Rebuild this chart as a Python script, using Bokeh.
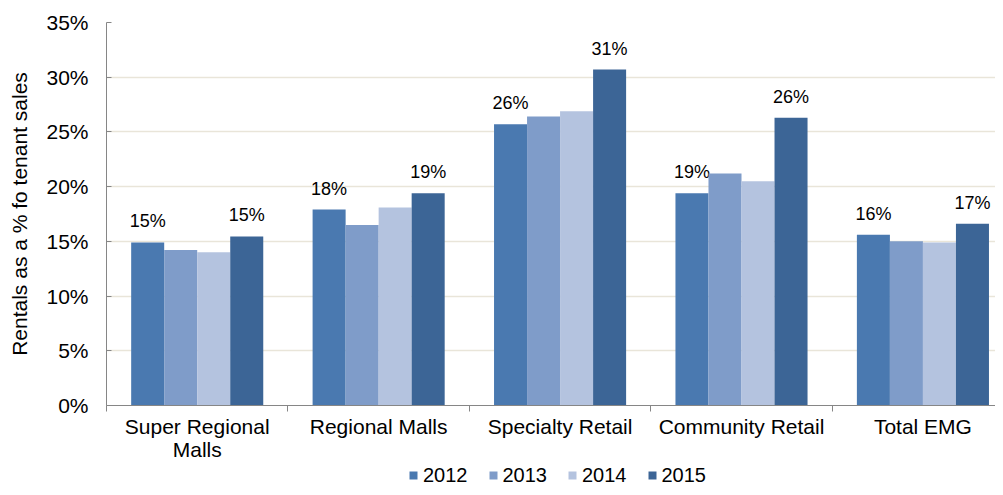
from bokeh.plotting import figure
from bokeh.layouts import column
from bokeh.models import Range1d, FixedTicker, Legend, LegendItem, ColumnDataSource
from bokeh.transform import dodge
from bokeh.core.properties import value
from bokeh.embed import file_html
from bokeh.resources import INLINE

categories = ["Super Regional\nMalls", "Regional Malls", "Specialty Retail", "Community Retail", "Total EMG"]
years = ["2012", "2013", "2014", "2015"]
v2012 = [14.9, 17.9, 25.7, 19.4, 15.6]
v2013 = [14.2, 16.5, 26.4, 21.2, 15.0]
v2014 = [14.0, 18.1, 26.9, 20.5, 14.9]
v2015 = [15.45, 19.4, 30.7, 26.3, 16.6]
series = [v2012, v2013, v2014, v2015]
labelled_years = ["2012", "2015"]
colors = ["#4A79B0", "#7F9CC9", "#B4C3DF", "#3C6596"]
yticks = [0, 5, 10, 15, 20, 25, 30, 35]

FONT = "Liberation Sans"
bar_w = 0.182
W = 995
# the reference's plot area is cropped at its right edge: only ~4.9 of 5 category slots show
x_visible_end = 4.9

xs = [i + 0.5 for i in range(len(categories))]
data = {"x": xs}
for y, vals in zip(years, series):
    data["v" + y] = vals
    data["l" + y] = [f"{int(v + 0.5)}%" for v in vals]
src = ColumnDataSource(data)

p = figure(width=W, height=463, output_backend="svg", toolbar_location=None,
           x_range=Range1d(0, x_visible_end), y_range=Range1d(0, 35))
p.min_border_left = 106
p.min_border_right = 0
p.min_border_top = 22
p.min_border_bottom = 57
p.outline_line_color = None
p.background_fill_color = "white"
p.border_fill_color = "white"

renderers = []
for k, (y, c) in enumerate(zip(years, colors)):
    off = (k - 1.5) * bar_w
    r = p.vbar(x=dodge("x", off), top="v" + y, width=bar_w, source=src,
               fill_color=c, line_color=None)
    renderers.append(r)
    if y in labelled_years:
        p.text(x=dodge("x", off), y="v" + y, text="l" + y, source=src,
               text_align="center", text_baseline="alphabetic", y_offset=-21,
               text_font=value(FONT), text_font_size="18px", text_color="#000000")

# y axis
p.yaxis.ticker = FixedTicker(ticks=yticks)
p.yaxis.major_label_overrides = {t: f"{t}%" for t in yticks}
p.yaxis.axis_label = "Rentals as a % fo tenant sales"
p.yaxis.axis_label_text_font = FONT
p.yaxis.axis_label_text_font_size = "21px"
p.yaxis.axis_label_text_font_style = "normal"
p.yaxis.axis_label_text_color = "#000000"
p.yaxis.axis_label_standoff = 12
p.yaxis.major_label_text_font = FONT
p.yaxis.major_label_text_font_size = "21px"
p.yaxis.major_label_text_color = "#000000"
p.yaxis.major_label_standoff = 18
p.yaxis.axis_line_color = "#868686"
p.yaxis.major_tick_line_color = "#868686"
p.yaxis.major_tick_in = 5
p.yaxis.major_tick_out = 0
p.yaxis.minor_tick_line_color = None

# x axis
p.xaxis.ticker = FixedTicker(ticks=xs, minor_ticks=list(range(len(categories) + 1)))
p.xaxis.major_label_overrides = {x: c for x, c in zip(xs, categories)}
p.xaxis.major_label_text_font = FONT
p.xaxis.major_label_text_font_size = "21px"
p.xaxis.major_label_text_line_height = 1.0
p.xaxis.major_label_text_color = "#000000"
p.xaxis.major_label_standoff = 3
p.xaxis.axis_line_color = "#868686"
p.xaxis.major_tick_line_color = None
p.xaxis.minor_tick_line_color = "#868686"
p.xaxis.minor_tick_out = 6
p.xaxis.minor_tick_in = 0

p.xgrid.grid_line_color = None
p.ygrid.grid_line_color = "#E9E5D9"
p.ygrid.grid_line_width = 1.5

# legend strip (separate figure so the legend is not clipped by the main frame);
# its bars use the same data but lie entirely outside this strip's visible ranges
lg = figure(width=W, height=24, output_backend="svg", toolbar_location=None,
            x_range=Range1d(-20, -19), y_range=Range1d(100, 101),
            x_axis_type=None, y_axis_type=None)
lg.min_border_left = 106
lg.min_border_right = 0
lg.min_border_top = 0
lg.min_border_bottom = 0
lg.outline_line_color = None
lg.xgrid.grid_line_color = None
lg.ygrid.grid_line_color = None
leg_renderers = []
for k, (y, c) in enumerate(zip(years, colors)):
    off = (k - 1.5) * bar_w
    leg_renderers.append(lg.vbar(x=dodge("x", off), top="v" + y, width=bar_w, source=src,
                                 fill_color=c, line_color=None))

legend = Legend(items=[LegendItem(label=y, renderers=[r]) for y, r in zip(years, leg_renderers)],
                orientation="horizontal", location=(302, 0))
legend.label_text_font = FONT
legend.label_text_font_size = "20px"
legend.label_text_color = "#000000"
legend.label_height = 24
legend.glyph_width = 10
legend.glyph_height = 10
legend.label_standoff = 5
legend.spacing = 20
legend.padding = 0
legend.margin = 0
legend.border_line_color = None
legend.background_fill_alpha = 0
lg.add_layout(legend)

layout = column(p, lg, spacing=0)
open("out.html", "w").write(file_html(layout, INLINE))
